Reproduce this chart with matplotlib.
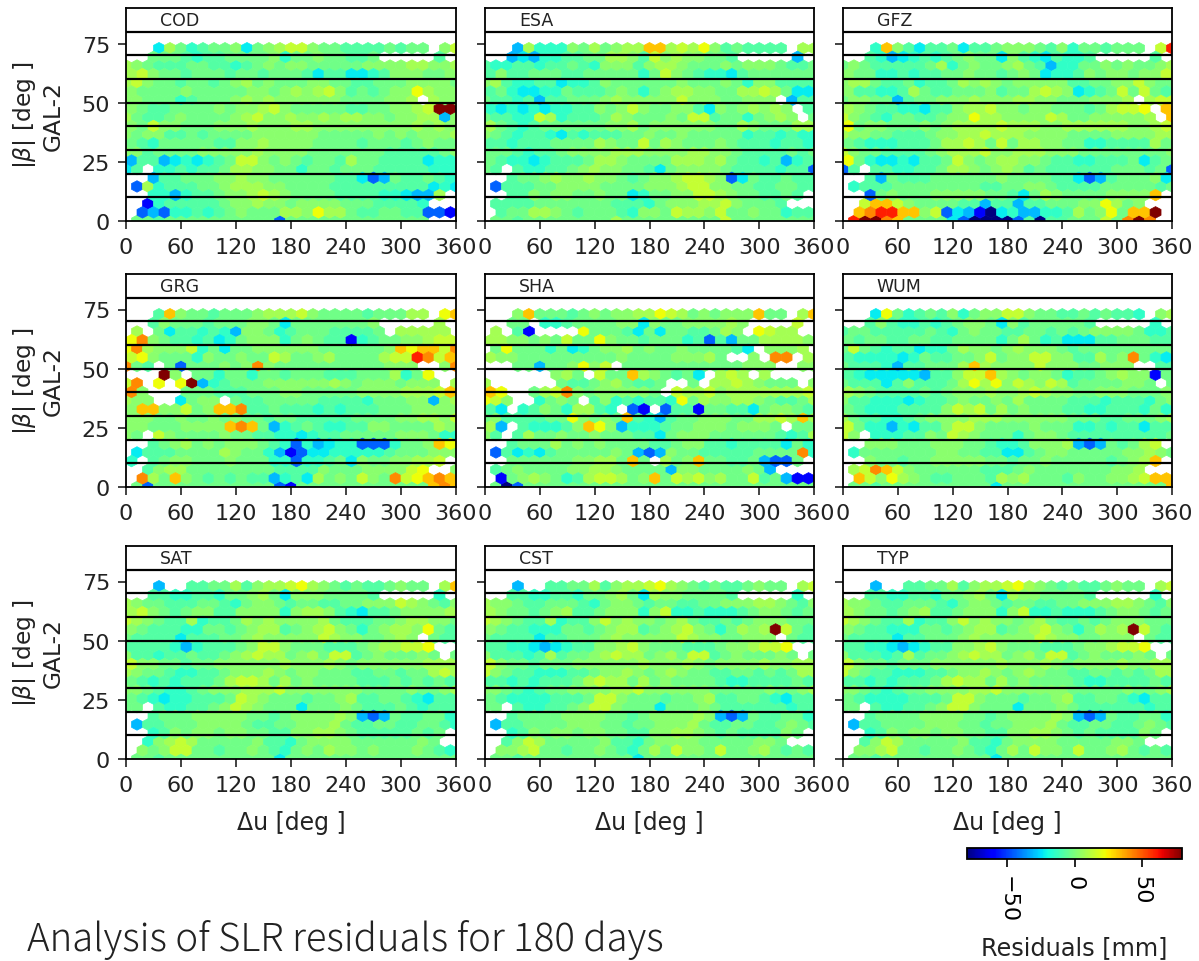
import numpy as np
import matplotlib
matplotlib.use("Agg")
import matplotlib.pyplot as plt
from matplotlib.cm import ScalarMappable
from matplotlib.colors import Normalize

LEVELS = {"a": -80, "b": -60, "c": -45, "d": -31, "e": -23, "f": -15, "g": -8, "h": -2,
          "i": 3, "j": 8, "k": 14, "l": 22, "m": 32, "n": 42, "o": 60, "p": 80}

# rows run from the top of the panel (73 deg) to the bottom (0 deg)
COD = ["...ejhfghh iehijkkihh gggghghh.i k",
"..hhhgfggh hhhifhhihh ggh.....g.",
"jihggghhgg fghihiihhh hhiiiijjii j",
"jkihhghhhg hhghhhgegg eefgiiihhi",
"jkihhghhgh ijhihhhiih hgghhhiiii h",
"ihhhhihhhh hiihijijki ghghiiljii",
"iihhhfghhh ijijiiiiii hhhhiij.ji i",
"ihgghhhhih iijkihhhhh gghhiijkpp",
"jhgghihhhh ijkiijiiji jjiihiijjd i",
"ihkiihhhii ijiiijjiii iiiiiijiji",
"ihiigghghh hhiiiiiihh hhhihihiii j",
"hgfhhhhhgg iijiiiihhh hghhhghihh",
"iighhhhiii iijiiiihhh hhhhgggggh i",
"dggdefefgh kkihihghhg jhhggggeff",
"eg.ffgfggh jjiihhfhhg hhhgggggff f",
"..dgghhhii jiihhhhhhg gecdhgghgf",
".cjfggghhi jjjiihhhhg ggggggggef e",
"..ffdfgghi ijkjihhhhg gggffeddj.",
"..bfgggggh iijiihiiii hhhggggf.. .",
".cdcffgfgh ihhhjjiljj hgghhggccb",
".hhghhhhhh hhhhchhhhh hhhhhhhh.. ."]

ESA = ["...djfffih jhijjmmjkj lighgggg.j j",
"..dedffggh hjjigkijii hhg.....d.",
"gffggfgghg fiiigijjih hhihiiihgg h",
"gigghhhggh hhhhfhkihg ffeghhhhhh",
"ijgffggeff gihhhhhhih hhihfiiggg g",
"ghfeeffhgg ghihfhijji ihhjjkjhee",
"hggfgdgghh hijiiiiiki iihhiii.dg g",
"fefefeffgg ihikihhiig eihijiji.g",
"hggffkjfgg ghjihhhihk kghhfhiji. h",
"jhgfghhhhh hiijhiiiii ihhjihhhjj",
"ihgfggfegf ggghhihhih hhhhfggfgf f",
"ggfggghhhh jihhkhjihh hihgggfggf",
"hhhgfgghii iijjjiiiij jiihgggghg h",
"hgffefgggh jjihhhhjjj ijhggfgdfg",
"hg.gffgghi jiihhgehii iihggggfgg c",
"..ghhijiij iihghiijkk jicehgghgg",
".cggghhiii ihhhhiiijk kiihhgghhg g",
"..ggihiihh ihhefhhiik kjihhgghg.",
".gggghhhhh hhgggfhiii jjkihhhg.. .",
".ghhjjihgh hhgfiihkjj ikhhihhfgg",
".hhghhhhhh hhjhhhhhhh hhkhhhhhhh h"]

GFZ = ["...fmigegg hegghiiihg ifhhghhh.k o",
"..gfdefgfg hihheigfeg ffg.....g.",
"hihggggghj fhihhijhgd ffhhihihhi j",
"ihhffgfggh hihhghihef fgihiihiik",
"ijjhgghfgg hjijihiiii igghhiikih h",
"iggffgjhgg hhhighhjkj iefghkhkhg",
"hiihhdghhi iijiiijjii hhhiiij.jk k",
"jihggffegg ijjkiihiih hhghjkkl.m",
"kihgfhhggh iiljjiiiik jhhiiiiij. m",
"lhiihhhihi jjjjkjjjii jjjjjjiijk",
"jiihhggghi ijjkjjjiii ihhhhiiiij j",
"hgfffggghj jkjhkhjjii hhffggggjh",
"kihhgggghi jjjkiijjji iihhhhhhhh i",
"lhfeefeggh kihijjiihg gffggghegh",
"cg.ggffggh jjihijighg ggggghhhgh c",
"..gdhggghh hhhhihhhhg gecdghhhie",
".fggghhhhh hhhgghhiih gggghhhhhg h",
"..chihhhii iiihhgehji hhhhiiiim.",
"..kmmkihhh hggdggdggh hhiiljhi.. .",
".mnoommikc edbaefddff gjhilhmmp.",
".oppnmhhhh ecaaaacgag ghhhkhnpn. ."]

GRG = ["...gmihhgh hhijjjkihh hhghhhjj.l m",
"..gihhhghh hiihehhhhh hhi.....j.",
".j.heggfgf diihfghhhg gggh.jjjjj .",
"lnihggfgef hiiifhihgg bfghhiijkk",
"lnjiiikfhe hhiiiiiihh hhhhimlmmk n",
"klihhhfihh ihhkjhhijh hhhjkkonkm",
"nhg.hchhhi hinihhhhhh hhhhiii..i n",
"...pi.hhfh hfhhghhhgg ghhhjfhl..",
"kn.l.lpdfg hhhiiiiiij ihiiihiii. j",
"ni...hhhgg ghhhiihhhh hiiiijjjkm",
"jii..ehii. hgghhhhhgg ggfhhhiidi j",
"immiikhimm ngghgggfgf ggghhhiiii",
"iiihhihhih ihhghhgggg ghhhhiijji k",
"iihhhiiiim nmhdfghgff ggiihhhhji",
"ih.kihhhhi hhggffefgg hhhhhiiihf f",
"..ghijhihi iihgfcfdef fcccfhhiml",
".eggghhhhj ihhfdbceef ffffghhhii i",
"f.ghiihhhi hhhffcffgh eihhiijjk.",
"..gijjhhhh hhhhggggih hhiiiikl.. i",
".njhmihghg hggdfgejhi hkihnklmnm",
".hchhhhhhh hhhhcbhhhh hhhhhhhhmn m"]

SHA = ["...imhhhgh ihiijjlkjh ihiiimhh.j m",
"..hh.ffghh hhiieihhii iiji....k.",
".j.gb....l hhhgehehhg ghji.lkjj. .",
"jjiihihkhh lihhghhhfg cgdhhjjjji",
".hlhhhfhef hiijhihhih hhhge.iiij .",
"jiihhhhhhh hhihhhhiii jh..i.nn.j",
"...hhdhhil ik.hhhhhhh hhhhiii..i i",
"......ijh. khhmjihghe .jkj.j....",
"j......hgg hijhggh..h .jjkjihhh. i",
"ml..hjknih iiiiih.kjj kijjjjjjjk",
"lki..fhih. gifgfggflh jiijjihggh j",
"ge.fgihfjj gf.cb.cggb hhggehiihg",
"higggghhli hihmgfdghh iiihhjjkjm j",
"jd.gfffgim lidfffghhi iihiiih.hh",
"ig.gjhhihh ihhhggehii ihhhhhhgfg j",
"..ghhhjhih ihhhhgghii ggfggggehf",
".cgefeghhh hhihdcdihh ggggghhhhn f",
"..hhhhhhii jjhmh.jhim hhgghdcch.",
".ghihhhhii jjihhhhdii hhhhihd... .",
".bhijihfgj kkjhimhkjk ijhhkghdbb",
".hachhhhhh hhhhhhhhhh hhhhhhhhhh h"]

WUM = ["...elhfghg ifhiikkihh gghghggf.i j",
"..gigffgfg hiiheighhh hhg.....f.",
"ghhggggghg fhihhgghhg hghiiiihff g",
"hghhgghhgg hhhhfhjhfg eeegghhhgg",
"hkhgfggeff hjiihijiii hghhhhhhhh h",
"gffffefhgg hhikhiikki iggjhinhfe",
"hgggfdgghh hjmjiiiiki iihhiii..g g",
"gfeeeeedgg ikkmjihiih fgghijiibh",
"hgggegiggg hjljlikjik jghhhhiih. h",
"jihgggghgh iiijiijkji ihhiiihhhi",
"iggfffefgg hihhihjhhh hgggfgggfh i",
"hgfffggggi kjkhjhihhh ggffgggfhf",
"jhggffghii iijjjiiiii ihhhgghhhi j",
"khffdfeggi kkihhhhihh hffgfggegg",
"ki.fffggih kjihhhfhii hggggggggg h",
"..iiihhhii ihhgffgiii jdcdhghjk.",
".fhhhhhhhi ihhggeeghi ihhhhhiiji h",
"..ihhghhii iiihhghhih hhhhghijm.",
".jknmkihhh hhhggghihh hhhhhiij.. .",
".mkiljihgg hhhgjijhhh gihhiijkmm",
".hhghhhhhh hhhhehhhhh hhhhhhhhhh m"]

SAT = ["...d..gghh jgijjkljih ghgghihh.j m",
"..ggffggfh hijheiiihh hhg.....f.",
"jihhggghhg fhiihghhgg hhiiikjihg i",
"jkihghiigg iiiifijjig fegghiiiij",
"kjihggjfgg hjijiiiijh ggghhijjii h",
"ihgggffhhg hijjghijki hfhijjilhg",
"hggggegggh hijiiiiikj iihhiji.hg g",
"ggggfdfggg hikkihhhgg ghijjkkl..",
"iggfgghggh ijkjjhijhk kghihhhih. h",
"kiihhghhii iiiijiiiji hiiiiiijjj",
"jihhgffggh iiijihiihh hgghhghhjk j",
"hgfgfggghj kkjhjhihhh hggghghghg",
"iihgffghii ijjjkiiiii iihhhhihhi j",
"hgfeffgggh kjihhhghhi jgghhgfegg",
"hh.gffgghi kjihhhehhh ihggghgfgg g",
"..ghhhiiii ihhghiiiij idcdhgghhf",
".dgghhhiii ihgghhiiij hgghhgghhg f",
"..fgihiihi ihhggiijji hggggghgh.",
"..fijkjhhh hhiggfhiii ihhhhhhih. .",
".ihikkhhgh hihgfhihji ihihhhihgf",
".hhghhhhhh hhhhehhhhh hhhhhhhhhh h"]

TYP = ["...d..gghh jgijjkljih ghgghihh.j k",
"..ggffggfh hijhejiihh hhg.....f.",
"jiihgghhhg fhiihghhgg hhiiijjihg i",
"jihhghijgg hiiifikffg fffghiihgh",
"kjihggjfgg ikijiihijh gghghiiihh h",
"ihggfffhhg hijjghijki hfhjijpkhg",
"hggggegghh hijiiiiikj iihhiii.hg g",
"ggffedefgg iijkihhhgg ghiijkkl..",
"igggfgjghh ijkjjhijhk kghihhhih. h",
"kihhghhhii iiiijiiiji hiiiijiijj",
"kihggfffgg hiijihijih hgghhghghj j",
"ggfgfggghj kjjhjhihhh hgffgggghg",
"iihgfghhii iijjkiiiii ihhhhhihhi j",
"hgffffgggh kkihhhghhi jgghhgfegg",
"hh.gffgghi kkihhhehhh ihggggggfg g",
"..ghhhhiii ihhghiiiij idcdhgghhf",
".dgghhhhii ihhghhiiij hgghhgghih g",
"..fgihiihi ihhggiijji hghggggih.",
"..gikjhhhh higgfhiiii hhhhhiih.. .",
".iijkhhghh ihgfhjhkii hkhhijhghg",
".hhghhhhhh hhhhehhhhh hhhhhhhhhh h"]

CST = list(TYP)

PANELS = ["COD", "ESA", "GFZ", "GRG", "SHA", "WUM", "SAT", "CST", "TYP"]
GRIDS = [COD, ESA, GFZ, GRG, SHA, WUM, SAT, CST, TYP]
XTICKS = [0, 60, 120, 180, 240, 300, 360]
YTICKS = [0, 25, 50, 75]
BANDS = [10, 20, 30, 40, 50, 60, 70, 80]

W, H = 1199, 962
LEFTS = [(126, 456), (485, 814), (843, 1172)]
ROWS = [(9, 222), (275, 488), (547, 760)]
DU, DB, NROW = 12.0, 3.65, 21

plt.rcParams["font.family"] = "DejaVu Sans"
fig = plt.figure(figsize=(W / 100, H / 100), dpi=100)
bad = []


def px_axes(x0, x1, y0, y1):
    return fig.add_axes([x0 / W, 1 - y1 / H, (x1 - x0) / W, (y1 - y0) / H])


def cells(name, rows):
    xs, ys, cs = [], [], []
    for n, row in enumerate(rows):
        k = NROW - 1 - n
        row = row.replace(" ", "")
        want = 31 if k % 2 == 0 else 30
        if len(row) != want:
            bad.append((name, n, len(row), want))
        off = 0.0 if k % 2 == 0 else DU / 2
        for i, ch in enumerate(row[:want]):
            if ch != ".":
                xs.append(off + i * DU)
                ys.append(k * DB)
                cs.append(LEVELS[ch])
    return xs, ys, cs


norm = Normalize(-80, 80)
for idx, (name, rows) in enumerate(zip(PANELS, GRIDS)):
    r, c = divmod(idx, 3)
    ax = px_axes(*LEFTS[c], *ROWS[r])
    x, y, v = cells(name, rows)
    ax.hexbin(x, y, C=v, gridsize=(30, 10), extent=(0, 360, 0, 73), cmap="jet", norm=norm,
              linewidths=0.5, zorder=1)
    for b in BANDS:
        ax.axhline(b, color="black", lw=1.6, zorder=3)
    ax.set_xlim(0, 360)
    ax.set_ylim(0, 90)
    ax.set_xticks(XTICKS)
    ax.set_yticks(YTICKS)
    ax.tick_params(labelsize=16, length=6, width=1.2, pad=5.5, color="#222222", labelcolor="#222222")
    if c != 0:
        ax.set_yticklabels([])
    else:
        ax.set_ylabel("$|\\beta|$ [deg ]\nGAL-2", fontsize=16.8, labelpad=12, color="#222222")
    if r == 2:
        ax.set_xlabel("Δu [deg ]", fontsize=17, labelpad=10.5, color="#222222")
    for s in ax.spines.values():
        s.set_linewidth(1.3)
    ax.text(37, 85, name, fontsize=12.5, color="#222222", ha="left", va="center")

cax = px_axes(967, 1182, 849, 860)
cb = fig.colorbar(ScalarMappable(norm=norm, cmap="jet"), cax=cax, orientation="horizontal")
cb.set_ticks([-50, 0, 50])
cb.ax.tick_params(labelsize=16, labelrotation=270, length=6, width=1.2, pad=5.5)
cb.outline.set_linewidth(1.3)
fig.text(1074 / W, 1 - 948 / H, "Residuals [mm]", fontsize=17.3, ha="center", va="center",
         color="#222222")

fig.text(27 / W, 1 - 940 / H, "Analysis of SLR residuals for 180 days", fontsize=27.6,
         family="Noto Sans CJK JP", weight="light", color="#222222", ha="left", va="center")

fig.savefig("out.png", dpi=100)
if bad:
    raise SystemExit("row lengths: " + repr(bad))
